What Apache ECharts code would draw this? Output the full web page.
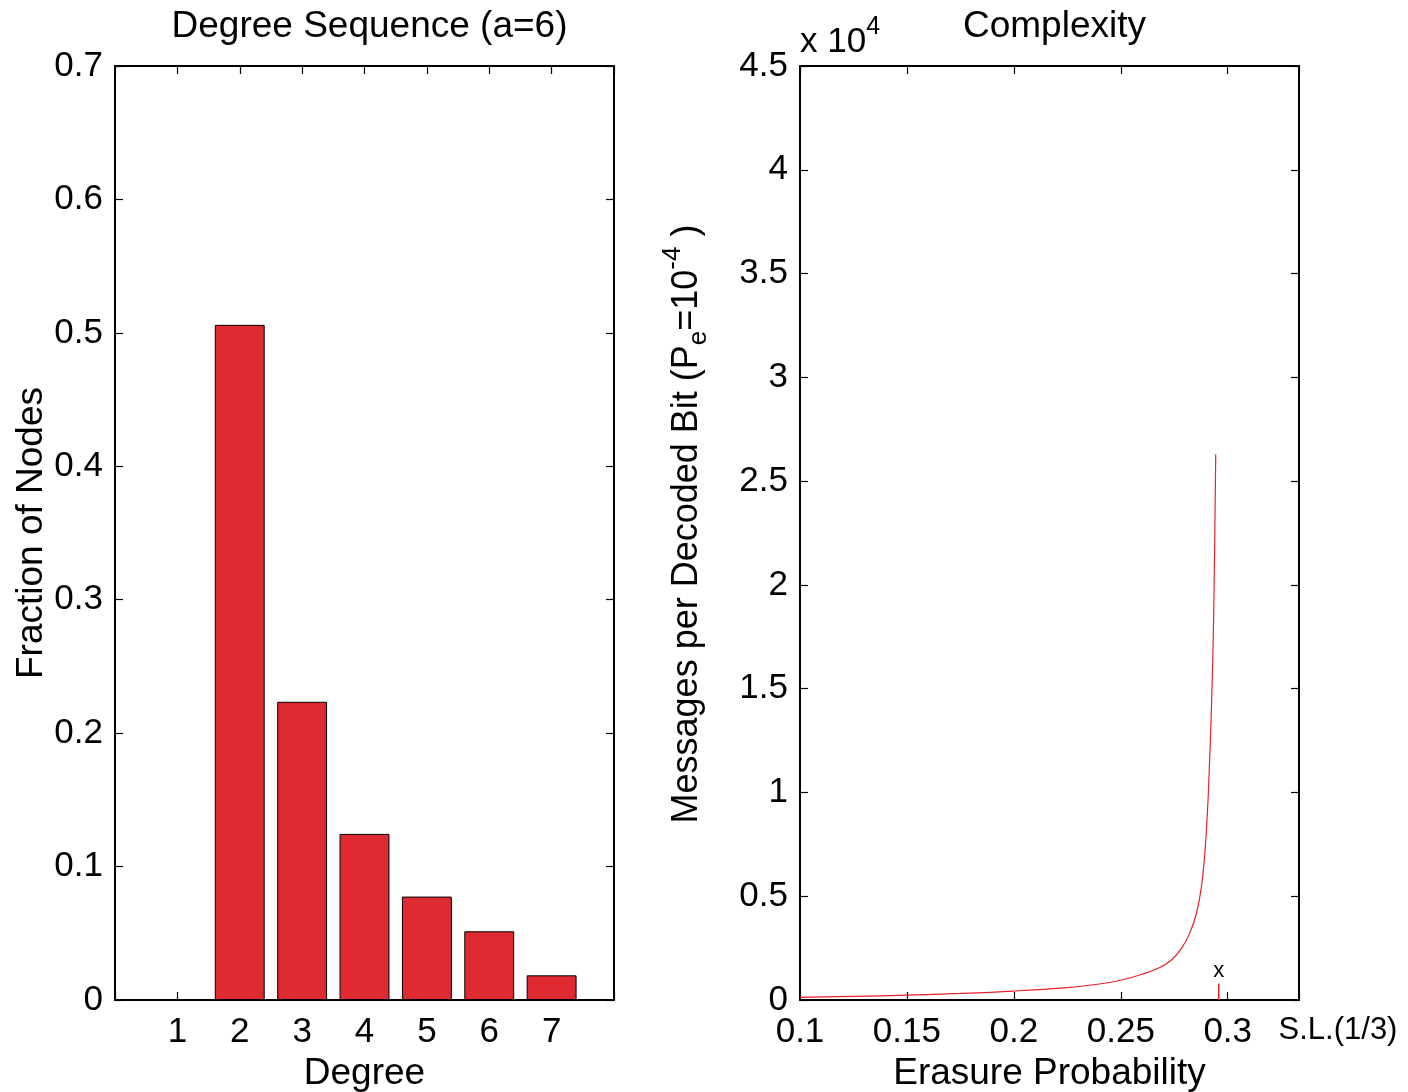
<!DOCTYPE html>
<html>
<head>
<meta charset="utf-8">
<script src="https://cdn.jsdelivr.net/npm/echarts@6/dist/echarts.min.js"></script>
<style>
  html, body { margin: 0; padding: 0; background: #ffffff; }
  #chart { width: 1408px; height: 1092px; }
</style>
</head>
<body>
<div id="chart"></div>
<script>
// Left panel: degree distribution of the variable nodes
const degrees = [1, 2, 3, 4, 5, 6, 7];
const nodeFractions = [0, 0.506, 0.2235, 0.1245, 0.0775, 0.0515, 0.0185];
const fractionTicks = [0, 0.1, 0.2, 0.3, 0.4, 0.5, 0.6, 0.7];

// Right panel: decoding complexity vs. erasure probability
const erasureProb = [0.100, 0.125, 0.150, 0.175, 0.200, 0.225, 0.240, 0.250, 0.260, 0.268,
                     0.2737, 0.2784, 0.2822, 0.2854, 0.2877, 0.2893, 0.2903, 0.2910,
                     0.2925, 0.2935, 0.2944];
const messagesPerBit = [130, 175, 235, 315, 430, 600, 770, 950, 1240, 1550,
                        1930, 2490, 3210, 4180, 5460, 7070, 8670, 10120,
                        14450, 18940, 26300];
// decoding threshold of the ensemble and the Shannon limit (1/3)
const thresholdProb = 0.2958;
const thresholdMarkHeight = 790;
const shannonLimit = 1 / 3;
const erasureTicks = [0.1, 0.15, 0.2, 0.25, 0.3];

const FONT = '"Liberation Sans", Arial, Helvetica, sans-serif';
const BLACK = '#000000';
const BAR_RED = '#e02a31';
const LINE_RED = '#e8222b';

function frameAxis(extra) {
  return Object.assign({
    axisLine: { show: true, onZero: false, lineStyle: { color: BLACK, width: 2 } },
    axisTick: { show: true, inside: true, length: 8, lineStyle: { color: BLACK, width: 1.2 } },
    splitLine: { show: false },
    axisLabel: { show: false }
  }, extra);
}

function tickLabel(extra) {
  return Object.assign({
    show: true, color: BLACK, fontSize: 35, fontFamily: FONT, margin: 12
  }, extra);
}

const nameStyle = { color: BLACK, fontSize: 37, fontFamily: FONT };

const chart = echarts.init(document.getElementById('chart'), null, { renderer: 'canvas' });

const option = {
  backgroundColor: '#ffffff',
  animation: false,
  title: [
    {
      text: 'Degree Sequence (a=6)', left: 364.5, top: 3, textAlign: 'center',
      textStyle: { color: BLACK, fontSize: 37, fontWeight: 'normal', fontFamily: FONT }
    },
    {
      text: 'Complexity', left: 1049.5, top: 3, textAlign: 'center',
      textStyle: { color: BLACK, fontSize: 37, fontWeight: 'normal', fontFamily: FONT }
    }
  ],
  grid: [
    { left: 115, top: 66, width: 499, height: 934, outerBoundsMode: 'none', containLabel: false },
    { left: 800, top: 66, width: 499, height: 934, outerBoundsMode: 'none', containLabel: false }
  ],
  xAxis: [
    frameAxis({
      gridIndex: 0, type: 'value', position: 'bottom', min: 0, max: 8, interval: 1,
      axisLabel: tickLabel({
        margin: 15,
        formatter: v => (degrees.indexOf(v) >= 0 ? String(v) : '')
      }),
      name: 'Degree', nameLocation: 'middle', nameGap: 49, nameTextStyle: nameStyle
    }),
    frameAxis({ gridIndex: 0, type: 'value', position: 'top', min: 0, max: 8, interval: 1 }),
    frameAxis({
      gridIndex: 1, type: 'value', position: 'bottom', min: erasureTicks[0], max: shannonLimit,
      interval: 0.05,
      axisLabel: tickLabel({
        margin: 15,
        showMaxLabel: true, showMinLabel: true,
        formatter: v => {
          if (Math.abs(v - shannonLimit) < 1e-9) return '{sl|S.L.(1/3)}';
          const hit = erasureTicks.find(t => Math.abs(t - v) < 1e-9);
          return hit !== undefined ? String(hit) : '';
        },
        rich: { sl: { fontSize: 31, fontFamily: FONT, color: BLACK, padding: [0, 0, 0, 78] } }
      }),
      name: 'Erasure Probability', nameLocation: 'middle', nameGap: 49, nameTextStyle: nameStyle
    }),
    frameAxis({ gridIndex: 1, type: 'value', position: 'top', min: erasureTicks[0], max: shannonLimit, interval: 0.05 })
  ],
  yAxis: [
    frameAxis({
      gridIndex: 0, type: 'value', position: 'left', min: 0, max: 0.7, interval: 0.1,
      axisLabel: tickLabel({
        formatter: v => {
          const hit = fractionTicks.find(t => Math.abs(t - v) < 1e-9);
          return hit !== undefined ? String(hit) : '';
        }
      }),
      name: 'Fraction of Nodes', nameLocation: 'middle', nameGap: 64, nameTextStyle: nameStyle
    }),
    frameAxis({ gridIndex: 0, type: 'value', position: 'right', min: 0, max: 0.7, interval: 0.1 }),
    frameAxis({
      gridIndex: 1, type: 'value', position: 'left', min: 0, max: 45000, interval: 5000,
      axisLabel: tickLabel({ formatter: v => String(Math.round(v / 1000) / 10) }),
      name: '{t|Messages per Decoded Bit (P}{sub|e}{t|=10}{sup|-4}{t| )}',
      nameLocation: 'middle', nameGap: 88,
      nameTextStyle: {
        color: BLACK, fontFamily: FONT, padding: [0, 0, 0, 18],
        rich: {
          t: { fontSize: 36, fontFamily: FONT, color: BLACK, verticalAlign: 'bottom', padding: [0, 0, 7, 0] },
          sub: { fontSize: 26, fontFamily: FONT, color: BLACK, verticalAlign: 'bottom', padding: [0, 0, 0, 0] },
          sup: { fontSize: 26, fontFamily: FONT, color: BLACK, verticalAlign: 'bottom', padding: [0, 0, 26, 0] }
        }
      }
    }),
    frameAxis({ gridIndex: 1, type: 'value', position: 'right', min: 0, max: 45000, interval: 5000 }),
    {
      // carries the "x 10^4" scale note above the left axis
      gridIndex: 1, type: 'value', position: 'left', min: 0, max: 45000,
      axisLine: { show: false }, axisTick: { show: false }, axisLabel: { show: false },
      splitLine: { show: false },
      name: '{t|x 10}{sup|4}', nameLocation: 'end', nameGap: 6,
      nameTextStyle: {
        align: 'left', verticalAlign: 'bottom', color: BLACK, fontFamily: FONT,
        rich: {
          t: { fontSize: 35, fontFamily: FONT, color: BLACK, verticalAlign: 'bottom' },
          sup: { fontSize: 25, fontFamily: FONT, color: BLACK, verticalAlign: 'bottom', padding: [0, 0, 20, 0] }
        }
      }
    }
  ],
  series: [
    {
      type: 'bar', xAxisIndex: 0, yAxisIndex: 0,
      barWidth: '80%',
      itemStyle: { color: BAR_RED, borderColor: BLACK, borderWidth: 1 },
      data: degrees.map((d, i) => [d, nodeFractions[i]])
    },
    {
      type: 'line', xAxisIndex: 2, yAxisIndex: 2,
      showSymbol: false, smooth: 0.4,
      lineStyle: { color: LINE_RED, width: 1.2 },
      data: erasureProb.map((p, i) => [p, messagesPerBit[i]])
    },
    {
      type: 'line', xAxisIndex: 2, yAxisIndex: 2,
      symbol: 'circle', symbolSize: 0, showSymbol: true,
      lineStyle: { color: LINE_RED, width: 1.5 },
      itemStyle: { color: LINE_RED },
      label: {
        show: true, position: 'top', distance: 2, color: BLACK, fontSize: 22, fontFamily: FONT,
        formatter: p => (p.dataIndex === 1 ? 'x' : '')
      },
      data: [[thresholdProb, 0], [thresholdProb, thresholdMarkHeight]]
    }
  ]
};

chart.setOption(option);
</script>
</body>
</html>
